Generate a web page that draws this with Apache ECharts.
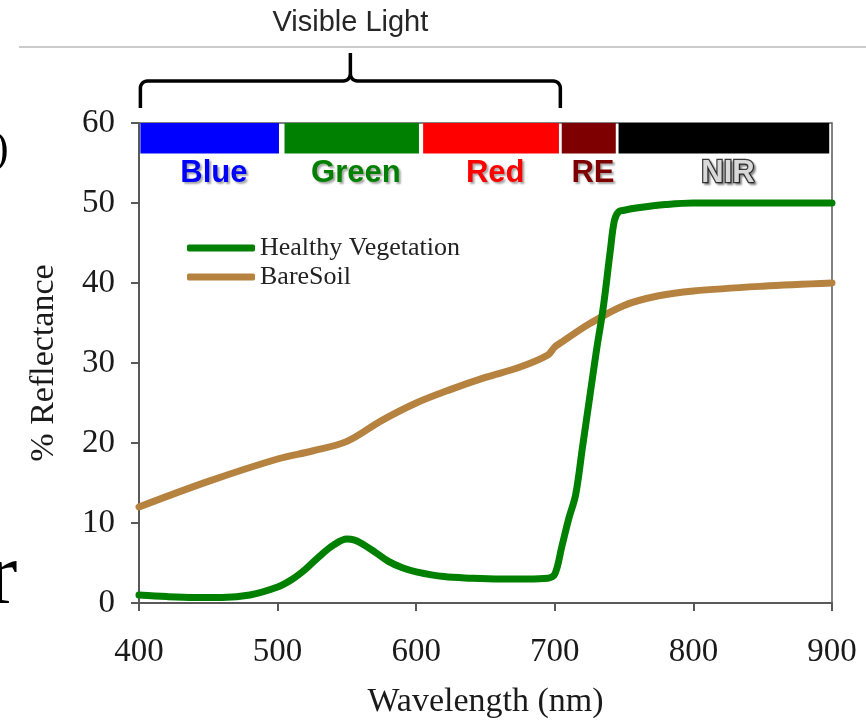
<!DOCTYPE html>
<html><head><meta charset="utf-8">
<script src="https://cdn.jsdelivr.net/npm/echarts@6/dist/echarts.min.js"></script>
<style>html,body{margin:0;padding:0;background:#fff}#c{width:866px;height:724px}</style>
</head><body><div id="c"></div>
<script>
// Healthy vegetation reflectance (wavelength nm, % reflectance)
const vegX = [400, 420, 440, 460, 480, 500, 510, 520, 530, 540, 550, 555, 560, 570, 580, 590, 600, 620, 640, 660, 680, 695, 700, 705, 710, 715, 720, 725, 730, 735, 740, 743, 746, 750, 760, 780, 800, 850, 900];
const vegY = [1.0, 0.8, 0.7, 0.7, 1.0, 2.0, 2.9, 4.2, 5.8, 7.2, 8.0, 7.9, 7.5, 6.4, 5.2, 4.4, 3.9, 3.3, 3.1, 3.0, 3.0, 3.1, 3.6, 7.0, 10.5, 13.5, 19.5, 25.5, 31.5, 37.0, 44.0, 47.8, 48.9, 49.1, 49.4, 49.8, 50.0, 50.0, 50.0];
// Bare soil reflectance
const soilX = [400, 450, 500, 525, 550, 575, 600, 625, 650, 675, 695, 700, 705, 725, 750, 775, 800, 850, 900];
const soilY = [12.0, 15.2, 18.0, 19.0, 20.2, 22.8, 25.0, 26.7, 28.2, 29.5, 31.0, 32.0, 32.6, 34.9, 37.2, 38.4, 39.0, 39.6, 40.0];
// spectral bands
const bandNames = ['Blue', 'Green', 'Red', 'RE', 'NIR'];
const bandStart = [401, 505, 605, 705, 746];
const bandEnd = [501, 602, 703, 744, 898];
const bandColors = ['#0000ff', '#008000', '#ff0000', '#7f0000', '#000000'];
const bandTextColors = ['#0000ff', '#008000', '#ff0000', '#7f0000', '#d9d9d9'];
const bandTop = 60, bandBottom = 56.2, bandLabelY = 53.7;
const visibleRange = [401, 704];
const seriesNames = ['Healthy Vegetation', 'BareSoil'];
const xMin = 400, xMax = 900, xStep = 100;
const yMin = 0, yMax = 60, yStep = 10;

const serif = '"Liberation Serif", "Times New Roman", serif';
const sans = '"Liberation Sans", Arial, sans-serif';
const axisColor = '#595959';

const chart = echarts.init(document.getElementById('c'), null, {renderer: 'canvas'});
chart.setOption({
  animation: false,
  backgroundColor: '#ffffff',
  grid: {left: 139, right: 34, top: 123, bottom: 118, show: true, borderColor: axisColor, borderWidth: 1.5, containLabel: false},
  legend: {
    data: seriesNames, orient: 'vertical', left: 182, top: 230,
    itemWidth: 68, itemHeight: 7, itemGap: 3, icon: 'roundRect',
    textStyle: {fontFamily: serif, fontSize: 26, color: '#222', lineHeight: 26}
  },
  xAxis: {
    type: 'value', min: xMin, max: xMax, interval: xStep,
    axisLine: {show: true, lineStyle: {color: axisColor, width: 2}},
    axisTick: {show: true, length: 8, lineStyle: {color: axisColor, width: 2}},
    axisLabel: {fontFamily: serif, fontSize: 33, color: '#1a1a1a', margin: 33},
    splitLine: {show: false},
    name: 'Wavelength (nm)', nameLocation: 'middle', nameGap: 82,
    nameTextStyle: {fontFamily: serif, fontSize: 34, color: '#1a1a1a'}
  },
  yAxis: {
    type: 'value', min: yMin, max: yMax, interval: yStep,
    axisLine: {show: true, lineStyle: {color: axisColor, width: 2}},
    axisTick: {show: true, length: 8, lineStyle: {color: axisColor, width: 2}},
    axisLabel: {fontFamily: serif, fontSize: 33, color: '#1a1a1a', margin: 24},
    splitLine: {show: false},
    name: '% Reflectance', nameLocation: 'middle', nameGap: 78,
    nameTextStyle: {fontFamily: serif, fontSize: 34, color: '#1a1a1a'}
  },
  series: [
    {
      name: seriesNames[0], type: 'line', showSymbol: false, smooth: 0.35,
      color: '#008000', lineStyle: {width: 7, color: '#008000', cap: 'round', join: 'round'},
      data: vegX.map((x, i) => [x, vegY[i]]), z: 3
    },
    {
      name: seriesNames[1], type: 'line', showSymbol: false, smooth: 0.35,
      color: '#b5823f', lineStyle: {width: 7, color: '#b5823f', cap: 'round', join: 'round'},
      data: soilX.map((x, i) => [x, soilY[i]]), z: 2
    },
    {
      type: 'custom', name: 'bands', silent: true, z: 4,
      encode: {x: [0, 1], y: 2},
      data: bandStart.map((s, i) => [s, bandEnd[i], bandTop]),
      renderItem: function (params, api) {
        const i = params.dataIndex;
        const s = api.value(0), e = api.value(1);
        const p0 = api.coord([s, bandTop]);
        const p1 = api.coord([e, bandBottom]);
        const pc = api.coord([(s + e) / 2 + 3, bandLabelY]);
        const isNir = bandNames[i] === 'NIR';
        return {
          type: 'group', children: [
            {type: 'rect', shape: {x: p0[0], y: p0[1], width: p1[0] - p0[0], height: p1[1] - p0[1]}, style: {fill: bandColors[i]}},
            {type: 'text', x: pc[0], y: pc[1], style: {
              text: bandNames[i], fill: bandTextColors[i], font: 'bold 31px ' + sans,
              align: 'center', verticalAlign: 'middle',
              stroke: isNir ? '#3a3a3a' : null, lineWidth: isNir ? 2.5 : 0,
              textShadowColor: 'rgba(0,0,0,0.35)', textShadowBlur: 2, textShadowOffsetX: 2, textShadowOffsetY: 2
            }}
          ]
        };
      }
    }
  ]
});

function arcPts(cx, cy, r, a0, a1, n) {
  const pts = [];
  for (let k = 0; k <= n; k++) {
    const a = a0 + (a1 - a0) * k / n;
    pts.push([cx + r * Math.cos(a), cy + r * Math.sin(a)]);
  }
  return pts;
}
const bx0 = chart.convertToPixel({xAxisIndex: 0}, visibleRange[0]);
const bx1 = chart.convertToPixel({xAxisIndex: 0}, visibleRange[1]);
const bm = (bx0 + bx1) / 2;
const by = 81, byEnd = 108, byTop = 53, r = 7, P = Math.PI;
const leftHalf = [[bx0, byEnd]]
  .concat(arcPts(bx0 + r, by + r, r, P, 1.5 * P, 8))
  .concat(arcPts(bm - r, by - r, r, 0.5 * P, 0, 8))
  .concat([[bm, byTop]]);
const rightHalf = arcPts(bm + r, by - r, r, P, 0.5 * P, 8)
  .concat(arcPts(bx1 - r, by + r, r, 1.5 * P, 2 * P, 8))
  .concat([[bx1, byEnd]]);

chart.setOption({
  graphic: [
    {type: 'line', shape: {x1: 19, y1: 47, x2: 866, y2: 47}, style: {stroke: '#cccccc', lineWidth: 2}},
    {type: 'text', x: bm, y: 23, style: {text: 'Visible Light', font: '29px ' + sans, fill: '#262626', align: 'center', verticalAlign: 'middle'}},
    {type: 'polyline', shape: {points: leftHalf}, style: {stroke: '#000', fill: null, lineWidth: 3.5}},
    {type: 'polyline', shape: {points: rightHalf}, style: {stroke: '#000', fill: null, lineWidth: 3.5}},
    {type: 'text', x: -6, y: 150, style: {text: ')', font: '44px ' + serif, fill: '#000', align: 'left', verticalAlign: 'middle'}},
    {type: 'text', x: -12, y: 580, style: {text: 'r', font: '88px ' + serif, fill: '#000', align: 'left', verticalAlign: 'middle'}}
  ]
});
</script>
</body></html>
